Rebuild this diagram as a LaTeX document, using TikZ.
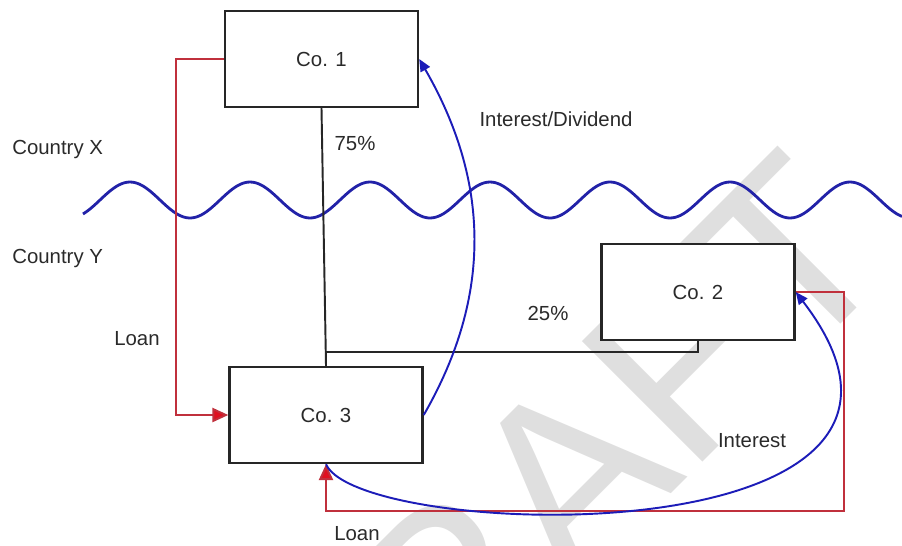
\documentclass[tikz,border=0pt]{standalone}
\usepackage{fontspec}
\setmainfont{Liberation Sans}
\usetikzlibrary{arrows.meta,calc}
\definecolor{ink}{HTML}{2A2A2A}
\definecolor{loanred}{HTML}{C0303C}
\definecolor{tipred}{HTML}{E01020}
\definecolor{flowblue}{HTML}{1C1CB8}
\definecolor{wavenavy}{HTML}{2222A8}
\definecolor{stamp}{HTML}{DFDFDF}
\tikzset{cobox/.style={draw=black!85,fill=white,line width=1.4pt,minimum width=3.86cm,minimum height=1.92cm,font=\fontsize{11.6}{14}\selectfont,text=ink},share/.style={draw=black!85,line width=1.1pt},loanline/.style={draw=loanred,line width=1.1pt,-{Triangle[length=9pt,width=8pt,fill=tipred]}},payline/.style={draw=flowblue,line width=1.1pt,-{Triangle[length=7pt,width=6pt]}},tag/.style={font=\fontsize{11.6}{14}\selectfont,text=ink,inner sep=0pt,text height=8.3pt,text depth=0pt},wave/.style={draw=wavenavy,line width=1.6pt}}

\begin{document}
\begin{tikzpicture}[x=0.02cm,y=-0.02cm]
\useasboundingbox (0,0) rectangle (902,545);
% watermark behind everything
\node[text=stamp,font=\fontsize{141}{170}\selectfont,rotate=45,inner sep=0pt] (draft) at (550,494) {DRAFT};
% border between the two countries
\draw[wave] plot[domain=83:902,samples=160,smooth] (\x,{200-18*cos(3*(\x-130))});
\node[cobox] (co1) at (321.5,59) {Co. 1};
\node[cobox] (co2) at (698,292) {Co. 2};
\node[cobox] (co3) at (326,415) {Co. 3};
\node[tag,anchor=west] (cx) at (12,147) {Country X};
\node[tag,anchor=west] (cy) at (12,256) {Country Y};
\node[tag] (p75) at (355,143) {75\%};
\node[tag] (p25) at (548,313) {25\%};
\node[tag] (divlab) at (556,119) {Interest/Dividend};
\node[tag] (intlab) at (752,440) {Interest};
\node[tag] (loanl) at (137,338) {Loan};
\node[tag] (loanb) at (357,533) {Loan};
% shareholdings
\coordinate (tee) at ($(co1.south)!0.946!(co3.north)$);
\draw[share] (co1.south) -- (co3.north);
\draw[share] (co2.south) |- (tee);
% loans
\coordinate (loanfoot) at (0,511);
\draw[loanline] (co1.west) -- ++(-48,0) |- (co3.west);
\draw[loanline] (co2.east) -- ++(48,0) |- (co3.south |- loanfoot) -- (co3.south);
% payments back
\draw[payline] (co3.east) to[out=60,in=-60] (co1.east);
\draw[payline] (co3.south) .. controls +(34,77) and +(206,268) .. (co2.east);
\end{tikzpicture}
\end{document}
